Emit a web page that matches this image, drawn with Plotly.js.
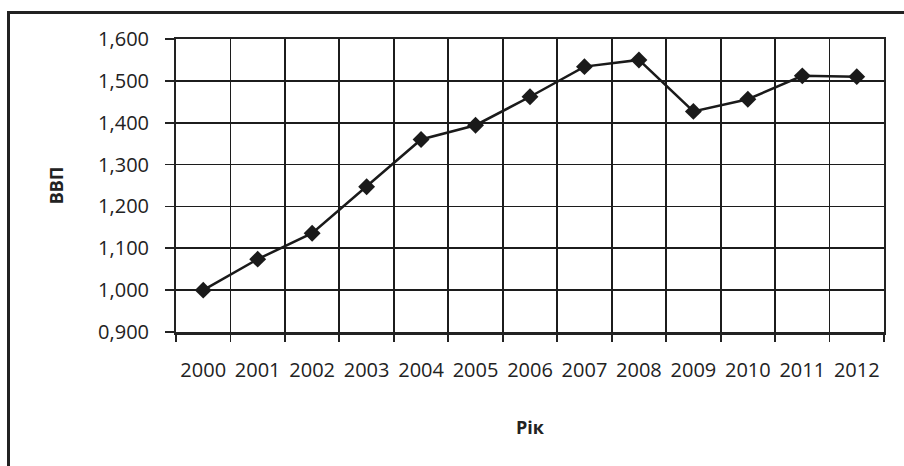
<!DOCTYPE html>
<html>
<head>
<meta charset="utf-8">
<script src="https://cdn.plot.ly/plotly-3.0.1.min.js"></script>
<style>
  html, body { margin: 0; padding: 0; background: #fff; overflow: hidden; }
  #frame { position: absolute; left: 7px; top: 11px; width: 1000px; height: 600px;
           border: 3px solid #222; box-sizing: border-box; }
  #chart { position: absolute; left: 0; top: 0; width: 904px; height: 466px; }
</style>
</head>
<body>
<div id="frame"></div>
<div id="chart"></div>
<script>
// GDP index by year
const years = [2000, 2001, 2002, 2003, 2004, 2005, 2006, 2007, 2008, 2009, 2010, 2011, 2012];
const gdp   = [1.000, 1.074, 1.136, 1.247, 1.360, 1.394, 1.462, 1.534, 1.550, 1.427, 1.456, 1.512, 1.510];
const yTicks = [0.9, 1.0, 1.1, 1.2, 1.3, 1.4, 1.5, 1.6];

const fontFamily = '"Open Sans", "Noto Sans", sans-serif';
const ink = '#222';
const grid = '#1c1c1c';

const trace = {
  x: years,
  y: gdp,
  type: 'scatter',
  mode: 'lines+markers',
  line: { color: '#1a1a1a', width: 2.5 },
  marker: { symbol: 'diamond', size: 13, color: '#1a1a1a' },
  hoverinfo: 'x+y'
};

const layout = {
  width: 904,
  height: 466,
  margin: { l: 176, r: 20, t: 39, b: 134 },
  paper_bgcolor: 'rgba(0,0,0,0)',
  plot_bgcolor: 'rgba(0,0,0,0)',
  separators: ', ',
  showlegend: false,
  font: { family: fontFamily, size: 20, color: ink },
  xaxis: {
    range: [years[0] - 0.5, years[years.length - 1] + 0.5],
    tickmode: 'array',
    tickvals: years,
    ticktext: years.map(String),
    tickfont: { size: 20, family: fontFamily, color: ink },
    ticks: '',
    showgrid: false,
    showline: true,
    linecolor: ink,
    linewidth: 2.5,
    mirror: true,
    zeroline: false,
    ticklabelstandoff: 18,
    minor: {
      tick0: years[0] - 0.5,
      dtick: 1,
      ticks: 'outside',
      ticklen: 7,
      tickwidth: 1.8,
      tickcolor: ink,
      showgrid: true,
      gridcolor: grid,
      gridwidth: 1.8
    },
    title: { text: '<b>Рік</b>', font: { size: 18, family: fontFamily, color: ink }, standoff: 40 }
  },
  yaxis: {
    range: [0.9, 1.6],
    tickmode: 'array',
    tickvals: yTicks,
    tickformat: '.3f',
    tickfont: { size: 20, family: fontFamily, color: ink },
    ticks: 'outside',
    ticklen: 9,
    tickwidth: 1.8,
    tickcolor: ink,
    showgrid: true,
    gridcolor: grid,
    gridwidth: 1.8,
    showline: true,
    linecolor: ink,
    linewidth: 2,
    mirror: true,
    zeroline: false,
    ticklabelstandoff: 12,
    title: { text: '<b>ВВП</b>', font: { size: 18, family: fontFamily, color: ink }, standoff: 30 }
  }
};

Plotly.newPlot('chart', [trace], layout, { displayModeBar: false, staticPlot: true });
</script>
</body>
</html>
